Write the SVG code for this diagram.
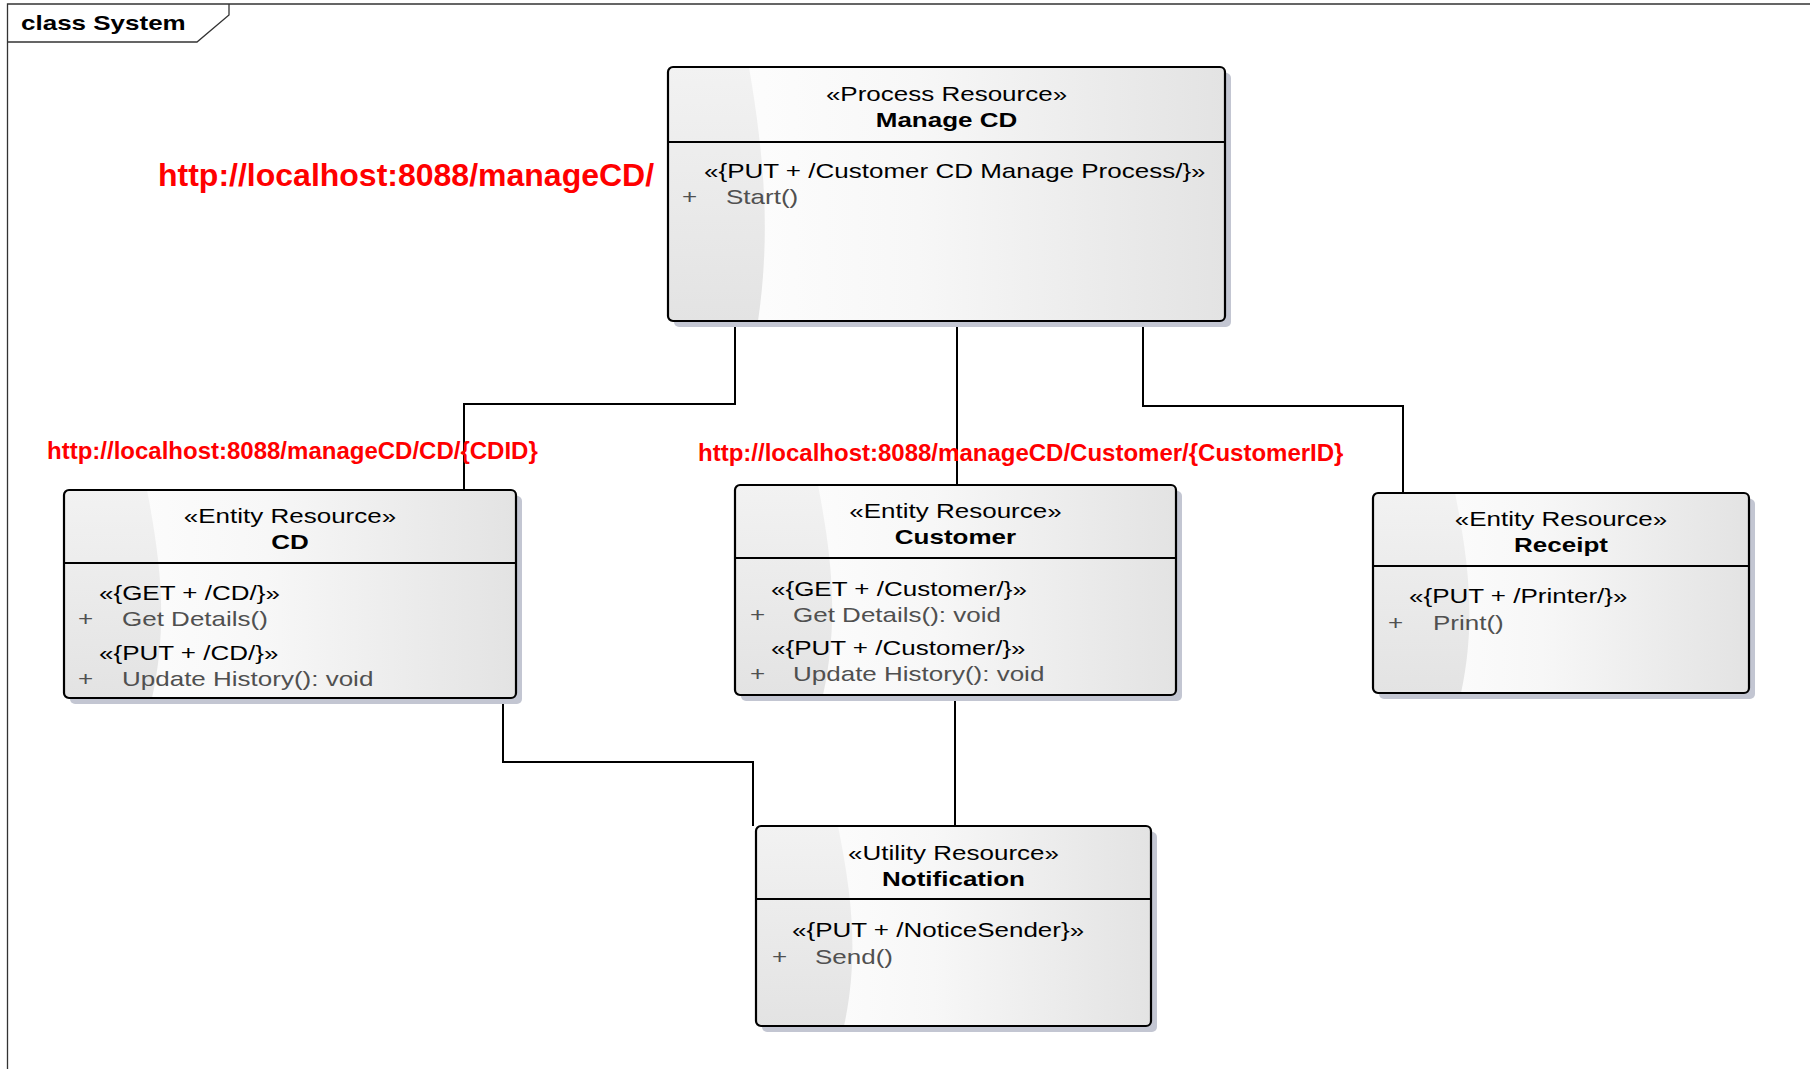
<svg xmlns="http://www.w3.org/2000/svg" width="1810" height="1069" viewBox="0 0 1810 1069">
  <style>
    text { font-family: "Liberation Sans", Arial, sans-serif; }
    .title { font-size: 20px; font-weight: bold; fill: #000; }
    .st { font-size: 20px; fill: #000; text-anchor: middle; }
    .nm { font-size: 20px; font-weight: bold; fill: #000; text-anchor: middle; }
    .at { font-size: 20px; fill: #000; }
    .op { font-size: 20px; fill: #505050; }
    .url { font-weight: bold; fill: #ff0000; }
    .frame { fill: none; stroke: #333; stroke-width: 1.3; }
    .shadow { fill: #c3c6d2; }
    .body { fill: url(#bodyGrad); }
    .strip { fill: url(#stripGrad); }
    .border { fill: none; stroke: #000; stroke-width: 2.2; }
    .div { stroke: #000; stroke-width: 2; }
    .conn { fill: none; stroke: #000; stroke-width: 2; }
  </style>
  <defs>
    <linearGradient id="bodyGrad" x1="0" y1="0" x2="1" y2="0">
      <stop offset="0" stop-color="#ffffff"/>
      <stop offset="0.45" stop-color="#f7f7f7"/>
      <stop offset="1" stop-color="#e3e3e3"/>
    </linearGradient>
    <linearGradient id="stripGrad" x1="0" y1="0" x2="0" y2="1">
      <stop offset="0" stop-color="#f2f2f2"/>
      <stop offset="1" stop-color="#e3e3e3"/>
    </linearGradient>
  </defs>

  <rect width="1810" height="1069" fill="#ffffff"/>

  <!-- diagram frame with name tab -->
  <g id="frame">
    <path class="frame" d="M7.5,1069 V4 H1810"/>
    <path class="frame" d="M229,4 V15 L197,42 H7.5"/>
    <text class="title" transform="matrix(1.3 0 0 1 21 30)">class System</text>
  </g>

  <!-- connectors -->
  <g id="connectors">
    <polyline class="conn" points="735,321 735,404 464,404 464,490"/>
    <polyline class="conn" points="957,321 957,485"/>
    <polyline class="conn" points="1143,321 1143,406 1403,406 1403,493"/>
    <polyline class="conn" points="503,698 503,762 753,762 753,826"/>
    <polyline class="conn" points="955,695 955,826"/>
  </g>

  <!-- resource URLs -->
  <g id="urls">
    <text class="url" x="158" y="186" font-size="32">http://localhost:8088/manageCD/</text>
    <text class="url" x="47" y="459" font-size="24">http://localhost:8088/manageCD/CD/{CDID}</text>
    <text class="url" x="698" y="461" font-size="24">http://localhost:8088/manageCD/Customer/{CustomerID}</text>
  </g>

  <!-- Manage CD -->
  <g id="node-manage-cd" transform="translate(668,67)">
    <rect class="shadow" x="6" y="6" width="557" height="254" rx="5"/>
    <rect class="body" width="557" height="254" rx="5"/>
    <path class="strip" d="M5,0 H81 C96,89 103,165 90,254 H5 Q0,254 0,249 V5 Q0,0 5,0 Z"/>
    <rect class="border" width="557" height="254" rx="5"/>
    <line class="div" x1="0" y1="75" x2="557" y2="75"/>
    <text class="st" transform="matrix(1.3 0 0 1 278.5 34)">«Process Resource»</text>
    <text class="nm" transform="matrix(1.3 0 0 1 278.5 60)">Manage CD</text>
    <text class="at" transform="matrix(1.3 0 0 1 36 111)">«{PUT + /Customer CD Manage Process/}»</text>
    <text class="op" transform="matrix(1.3 0 0 1 14 137)">+</text>
    <text class="op" transform="matrix(1.3 0 0 1 58 137)">Start()</text>
  </g>

  <!-- CD -->
  <g id="node-cd" transform="translate(64,490)">
    <rect class="shadow" x="6" y="6" width="452" height="208" rx="5"/>
    <rect class="body" width="452" height="208" rx="5"/>
    <path class="strip" d="M5,0 H83 C97,73 104,135 88,208 H5 Q0,208 0,203 V5 Q0,0 5,0 Z"/>
    <rect class="border" width="452" height="208" rx="5"/>
    <line class="div" x1="0" y1="73" x2="452" y2="73"/>
    <text class="st" transform="matrix(1.3 0 0 1 226 33)">«Entity Resource»</text>
    <text class="nm" transform="matrix(1.3 0 0 1 226 59)">CD</text>
    <text class="at" transform="matrix(1.3 0 0 1 35 110)">«{GET + /CD/}»</text>
    <text class="op" transform="matrix(1.3 0 0 1 14 136)">+</text>
    <text class="op" transform="matrix(1.3 0 0 1 58 136)">Get Details()</text>
    <text class="at" transform="matrix(1.3 0 0 1 35 170)">«{PUT + /CD/}»</text>
    <text class="op" transform="matrix(1.3 0 0 1 14 196)">+</text>
    <text class="op" transform="matrix(1.3 0 0 1 58 196)">Update History(): void</text>
  </g>

  <!-- Customer -->
  <g id="node-customer" transform="translate(735,485)">
    <rect class="shadow" x="6" y="6" width="441" height="210" rx="5"/>
    <rect class="body" width="441" height="210" rx="5"/>
    <path class="strip" d="M5,0 H83 C97,73 104,136 88,210 H5 Q0,210 0,205 V5 Q0,0 5,0 Z"/>
    <rect class="border" width="441" height="210" rx="5"/>
    <line class="div" x1="0" y1="73" x2="441" y2="73"/>
    <text class="st" transform="matrix(1.3 0 0 1 220.5 33)">«Entity Resource»</text>
    <text class="nm" transform="matrix(1.3 0 0 1 220.5 59)">Customer</text>
    <text class="at" transform="matrix(1.3 0 0 1 36 111)">«{GET + /Customer/}»</text>
    <text class="op" transform="matrix(1.3 0 0 1 15 137)">+</text>
    <text class="op" transform="matrix(1.3 0 0 1 58 137)">Get Details(): void</text>
    <text class="at" transform="matrix(1.3 0 0 1 36 170)">«{PUT + /Customer/}»</text>
    <text class="op" transform="matrix(1.3 0 0 1 15 196)">+</text>
    <text class="op" transform="matrix(1.3 0 0 1 58 196)">Update History(): void</text>
  </g>

  <!-- Receipt -->
  <g id="node-receipt" transform="translate(1373,493)">
    <rect class="shadow" x="6" y="6" width="376" height="200" rx="5"/>
    <rect class="body" width="376" height="200" rx="5"/>
    <path class="strip" d="M5,0 H82 C96,70 103,130 88,200 H5 Q0,200 0,195 V5 Q0,0 5,0 Z"/>
    <rect class="border" width="376" height="200" rx="5"/>
    <line class="div" x1="0" y1="73" x2="376" y2="73"/>
    <text class="st" transform="matrix(1.3 0 0 1 188 33)">«Entity Resource»</text>
    <text class="nm" transform="matrix(1.3 0 0 1 188 59)">Receipt</text>
    <text class="at" transform="matrix(1.3 0 0 1 36 110)">«{PUT + /Printer/}»</text>
    <text class="op" transform="matrix(1.3 0 0 1 15 137)">+</text>
    <text class="op" transform="matrix(1.3 0 0 1 60 137)">Print()</text>
  </g>

  <!-- Notification -->
  <g id="node-notification" transform="translate(756,826)">
    <rect class="shadow" x="6" y="6" width="395" height="200" rx="5"/>
    <rect class="body" width="395" height="200" rx="5"/>
    <path class="strip" d="M5,0 H82 C96,70 103,130 88,200 H5 Q0,200 0,195 V5 Q0,0 5,0 Z"/>
    <rect class="border" width="395" height="200" rx="5"/>
    <line class="div" x1="0" y1="73" x2="395" y2="73"/>
    <text class="st" transform="matrix(1.3 0 0 1 197.5 34)">«Utility Resource»</text>
    <text class="nm" transform="matrix(1.3 0 0 1 197.5 60)">Notification</text>
    <text class="at" transform="matrix(1.3 0 0 1 36 111)">«{PUT + /NoticeSender}»</text>
    <text class="op" transform="matrix(1.3 0 0 1 16 138)">+</text>
    <text class="op" transform="matrix(1.3 0 0 1 59 138)">Send()</text>
  </g>
</svg>
